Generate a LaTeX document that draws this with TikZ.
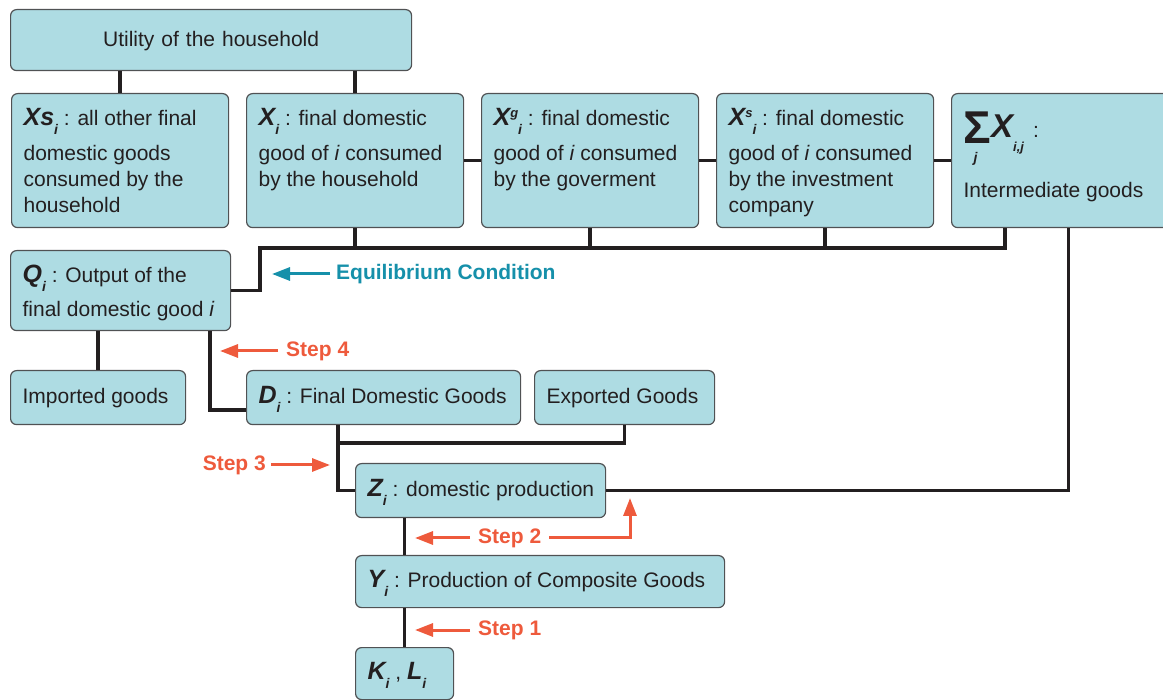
\documentclass[tikz,border=0pt]{standalone}
\usepackage{fontspec}
\setmainfont{Liberation Sans}
\usetikzlibrary{arrows.meta}

\definecolor{boxfill}{RGB}{174,220,227}
\definecolor{boxline}{RGB}{80,82,84}
\definecolor{wirecol}{RGB}{35,31,32}
\definecolor{stepred}{RGB}{238,90,60}
\definecolor{eqteal}{RGB}{22,144,170}

\newcommand{\txtfont}{\fontsize{21}{26}\selectfont}
% variable with subscript
\newcommand{\gv}[2]{{\fontsize{25}{26}\selectfont\bfseries\itshape #1}\raisebox{-9pt}{\fontsize{14}{14}\selectfont\bfseries\itshape #2}}
% variable with superscript and subscript
\newcommand{\gvs}[3]{{\fontsize{25}{26}\selectfont\bfseries\itshape #1}\raisebox{8pt}{\fontsize{13}{13}\selectfont\bfseries\itshape #2}\raisebox{-9pt}{\fontsize{14}{14}\selectfont\bfseries\itshape #3}}

\tikzset{
  box/.style={draw=boxline, fill=boxfill, line width=1.2, rounded corners=6,
    anchor=north west, inner xsep=12, inner ysep=0, align=flush left,
    text=wirecol, font=\txtfont},
  onebox/.style={box, text height=17, text depth=5},
  tallbox/.style={box, minimum width=217, text width=193, inner ysep=15,
    text height=17, text depth=87},
  wire/.style={draw=wirecol, line width=3.5},
  steptxt/.style={text=stepred, font=\txtfont\bfseries, inner ysep=0, inner xsep=8},
  steparrow/.style={draw=stepred, line width=3, -{Triangle[length=18pt,width=13pt]}},
  eqarrow/.style={draw=eqteal, line width=3, -{Triangle[length=18pt,width=13pt]}}
}

\begin{document}
\begin{tikzpicture}[x=1pt,y=-1pt]
\useasboundingbox (0,0) rectangle (1163,700);

% boxes
\node[onebox, align=center, minimum width=401, minimum height=61, text width=377] (util) at (10,9) {Utility of the household};

\node[tallbox] (xs) at (11,93) {\gv{Xs}{i} : all other final\\[9pt]domestic goods\\consumed by the\\household};
\node[tallbox] (xi) at (246,93) {\gv{X}{i} : final domestic\\[9pt]good of \textit{i} consumed\\by the household};
\node[tallbox] (xg) at (481,93) {\gvs{X}{g}{i} : final domestic\\[9pt]good of \textit{i} consumed\\by the goverment};
\node[tallbox] (xsv) at (716,93) {\gvs{X}{s}{i} : final domestic\\[9pt]good of \textit{i} consumed\\by the investment\\company};
\node[tallbox, minimum width=234, text width=210, text height=29, text depth=75] (sum) at (951,93)
  {\smash{\rlap{\raisebox{-25pt}{\hspace{10pt}\fontsize{14}{14}\selectfont\bfseries\itshape j}}\raisebox{-6pt}{\fontsize{46}{46}\selectfont\bfseries Σ}}{\fontsize{33}{33}\selectfont\bfseries\itshape X}\smash{\raisebox{-14pt}{\fontsize{13}{13}\selectfont\bfseries\itshape i,j}}\hspace{9pt}:\\[34pt]Intermediate goods};

\node[box, minimum width=220, text width=196, inner ysep=15, text height=17, text depth=33] (q) at (10,250)
  {\gv{Q}{i} : Output of the\\[8pt]final domestic good \textit{i}};

\node[onebox, minimum width=175, minimum height=54, text width=151] (imp) at (10,370) {Imported goods};
\node[onebox, minimum width=274, minimum height=54, text width=250] (d) at (246,370) {\mbox{\gv{D}{i} : Final Domestic Goods}};
\node[onebox, minimum width=180, minimum height=54, text width=156] (exp) at (534,370) {Exported Goods};
\node[onebox, minimum width=250, minimum height=54, text width=226] (z) at (355,463) {\mbox{\gv{Z}{i} : domestic production}};
\node[onebox, minimum width=369, minimum height=52, text width=345] (y) at (355,555) {\mbox{\gv{Y}{i} : Production of Composite Goods}};
\node[onebox, minimum width=98, minimum height=52, text width=74] (kl) at (355,647) {\gv{K}{i} , \gv{L}{i}};

% connectors
\coordinate (busw) at (260,248);
\coordinate (buse) at (1005,248);
\coordinate (qd) at (210,410);
\coordinate (dx) at (338,443);

\draw[wire] (util.south -| xs.north) -- (xs.north);
\draw[wire] (util.south -| xi.north) -- (xi.north);
\draw[wire] (xi.east) -- (xg.west);
\draw[wire] (xg.east) -- (xsv.west);
\draw[wire] (xsv.east) -- (sum.west);

\draw[wire] (q.east) -| (busw) -- (buse) -- (buse |- sum.south);
\foreach \n in {xi,xg,xsv}
  \draw[wire] (\n.south) -- (\n.south |- busw);
\draw[wire] (sum.south) |- (z.east);

\draw[wire] (q.south -| imp.north) -- (imp.north);
\draw[wire] (q.south -| qd) -- (qd) -- (qd -| d.west);
\draw[wire] (dx |- d.south) -- (dx) -| (exp.south);
\draw[wire] (dx) |- (z.west);
\draw[wire] (z.south -| kl.north) -- (y.north -| kl.north);
\draw[wire] (y.south -| kl.north) -- (kl.north);

% steps
\node[steptxt, text=eqteal, anchor=west, inner xsep=6] (eq) at (330,274) {Equilibrium Condition};
\coordinate (eqtip) at (272,274);
\draw[eqarrow] (eq.west) -- (eqtip);

\node[steptxt, anchor=west] (s4) at (278,351) {Step 4};
\coordinate (s4tip) at (220,351);
\draw[steparrow] (s4.west) -- (s4tip);

\node[steptxt, anchor=east, inner xsep=5] (s3) at (271,465) {Step 3};
\coordinate (s3tip) at (330,465);
\draw[steparrow] (s3.east) -- (s3tip);

\node[steptxt, anchor=west] (s2) at (470,538) {Step 2};
\coordinate (s2tip) at (415,538);
\coordinate (s2up) at (630,498);
\draw[steparrow] (s2.west) -- (s2tip);
\draw[steparrow] (s2.east) -| (s2up);

\node[steptxt, anchor=west] (s1) at (470,630) {Step 1};
\coordinate (s1tip) at (415,630);
\draw[steparrow] (s1.west) -- (s1tip);
\end{tikzpicture}
\end{document}
